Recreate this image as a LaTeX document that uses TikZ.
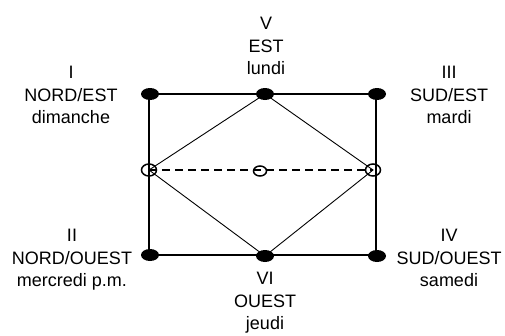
\documentclass[tikz,border=0pt]{standalone}
\usepackage{fontspec}
\setmainfont{Liberation Sans}
\usetikzlibrary{shapes.geometric}
\begin{document}
\begin{tikzpicture}
  [x=1pt,y=-1pt,
   dot/.style={ellipse,fill=black,inner sep=0pt,minimum width=18pt,minimum height=12pt},
   ring/.style={ellipse,draw,line width=1.5pt,inner sep=0pt,minimum width=15pt,minimum height=12pt},
   lab/.style={align=center,inner sep=0pt,font=\fontsize{18}{22.5}\selectfont}]
  \useasboundingbox (0,0) rectangle (505,335);

  % corners and middles of the square
  \coordinate (cNE) at (149,94);
  \coordinate (cSE) at (376,94);
  \coordinate (cSO) at (376,255);
  \coordinate (cNO) at (149,255);
  \coordinate (mL) at (149,170);
  \coordinate (mC) at (260,171);
  \coordinate (mR) at (373,170);
  \coordinate (cE) at (265,94);
  \coordinate (cO) at (265,256);

  \draw[line width=2.6pt] (cNE) -- (cSE) -- (cSO) -- (cNO) -- cycle;
  \draw[line width=0.9pt] (cE) -- (mL) -- (cO) -- (mR) -- cycle;
  \draw[line width=2.4pt,dash pattern=on 8pt off 5pt] (mL) -- (mR);

  \node[dot] (pI)   at (150,94)  {};
  \node[dot] (pV)   at (cE)      {};
  \node[dot] (pIII) at (377,94)  {};
  \node[dot] (pII)  at (150,255) {};
  \node[dot] (pVI)  at (cO)      {};
  \node[dot] (pIV)  at (377,256) {};
  \node[ring] (rL) at (mL) {};
  \node[ring,minimum width=13pt,minimum height=10pt] (rC) at (mC) {};
  \node[ring] (rR) at (mR) {};

  \node[lab] (tI)   at (71,95)   {I\\NORD/EST\\dimanche};
  \node[lab] (tV)   at (266,46)  {V\\EST\\lundi};
  \node[lab] (tIII) at (449,95)  {III\\SUD/EST\\mardi};
  \node[lab] (tII)  at (72,260)  {II\\NORD/OUEST\\mercredi p.m.};
  \node[lab] (tVI)  at (265,303) {VI\\OUEST\\jeudi};
  \node[lab] (tIV)  at (449,258) {IV\\SUD/OUEST\\samedi};
\end{tikzpicture}
\end{document}
